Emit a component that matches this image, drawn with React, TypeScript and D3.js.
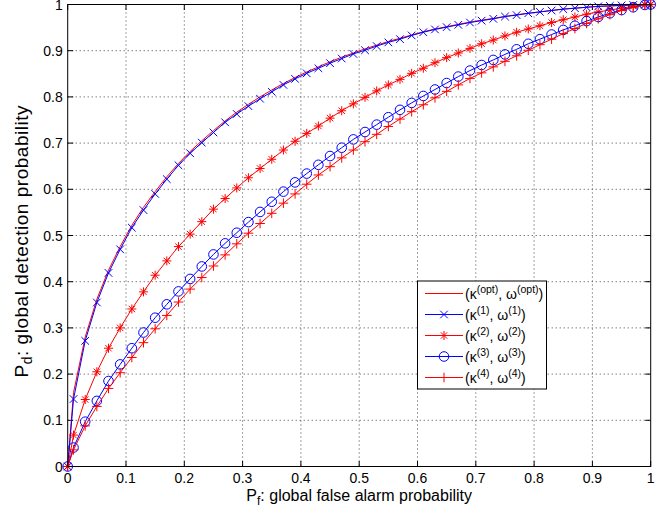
import React, { useEffect, useRef } from "react";
import * as d3 from "d3";

// false alarm probabilities where the curves were sampled
const pf = [
  0, 0.01, 0.03, 0.05, 0.07, 0.09, 0.11, 0.13, 0.15, 0.17, 0.19, 0.21, 0.23, 0.25,
  0.27, 0.29, 0.31, 0.33, 0.35, 0.37, 0.39, 0.41, 0.43, 0.45, 0.47, 0.49, 0.51,
  0.53, 0.55, 0.57, 0.59, 0.61, 0.63, 0.65, 0.67, 0.69, 0.71, 0.73, 0.75, 0.77,
  0.79, 0.81, 0.83, 0.85, 0.87, 0.89, 0.91, 0.93, 0.95, 0.97, 0.99, 1,
];

// detection probabilities
const pdOpt = [
  0, 0.16, 0.28, 0.362, 0.425, 0.476, 0.522, 0.561, 0.595, 0.627, 0.656, 0.682,
  0.705, 0.727, 0.748, 0.767, 0.784, 0.8, 0.815, 0.829, 0.842, 0.854, 0.865, 0.876,
  0.886, 0.895, 0.904, 0.912, 0.92, 0.927, 0.934, 0.941, 0.947, 0.952, 0.957,
  0.962, 0.966, 0.97, 0.974, 0.978, 0.981, 0.984, 0.987, 0.99, 0.992, 0.994,
  0.996, 0.997, 0.998, 0.999, 1, 1,
];
const pd1 = [
  0, 0.146, 0.272, 0.355, 0.419, 0.47, 0.517, 0.555, 0.59, 0.622, 0.652, 0.678,
  0.701, 0.723, 0.745, 0.763, 0.78, 0.796, 0.811, 0.826, 0.839, 0.851, 0.862,
  0.873, 0.883, 0.893, 0.901, 0.91, 0.918, 0.925, 0.933, 0.94, 0.946, 0.951,
  0.956, 0.961, 0.965, 0.969, 0.974, 0.977, 0.981, 0.984, 0.987, 0.99, 0.992,
  0.994, 0.996, 0.997, 0.998, 0.999, 1, 1,
];
const pd2 = [
  0, 0.068, 0.145, 0.205, 0.256, 0.3, 0.341, 0.378, 0.414, 0.445, 0.476, 0.503,
  0.53, 0.557, 0.58, 0.603, 0.625, 0.645, 0.665, 0.685, 0.704, 0.721, 0.737,
  0.754, 0.77, 0.785, 0.799, 0.813, 0.826, 0.838, 0.851, 0.862, 0.874, 0.885,
  0.895, 0.905, 0.915, 0.923, 0.932, 0.94, 0.947, 0.954, 0.961, 0.967, 0.973,
  0.979, 0.984, 0.988, 0.992, 0.996, 0.999, 1,
];
const pd3 = [
  0, 0.041, 0.097, 0.142, 0.185, 0.221, 0.256, 0.29, 0.322, 0.351, 0.379, 0.406,
  0.433, 0.459, 0.483, 0.506, 0.529, 0.551, 0.573, 0.595, 0.615, 0.634, 0.653,
  0.672, 0.69, 0.708, 0.724, 0.74, 0.756, 0.772, 0.787, 0.802, 0.816, 0.83,
  0.844, 0.857, 0.869, 0.88, 0.892, 0.903, 0.915, 0.925, 0.935, 0.945, 0.954,
  0.964, 0.973, 0.981, 0.988, 0.994, 0.999, 1,
];
const pd4 = [
  0, 0.036, 0.088, 0.13, 0.169, 0.203, 0.236, 0.268, 0.298, 0.327, 0.356, 0.384,
  0.409, 0.434, 0.458, 0.482, 0.505, 0.526, 0.548, 0.57, 0.59, 0.611, 0.631,
  0.649, 0.668, 0.685, 0.703, 0.719, 0.736, 0.752, 0.768, 0.783, 0.798, 0.812,
  0.826, 0.84, 0.852, 0.865, 0.877, 0.889, 0.901, 0.913, 0.925, 0.937, 0.948,
  0.959, 0.969, 0.978, 0.987, 0.994, 0.999, 1,
];

const ticks = [0, 0.1, 0.2, 0.3, 0.4, 0.5, 0.6, 0.7, 0.8, 0.9, 1];
const legendSups = ["(opt)", "(1)", "(2)", "(3)", "(4)"];

const series = [
  { values: pdOpt, color: "#ff0000", marker: "none" },
  { values: pd1, color: "#0000ff", marker: "x" },
  { values: pd2, color: "#ff0000", marker: "star" },
  { values: pd3, color: "#0000ff", marker: "o" },
  { values: pd4, color: "#ff0000", marker: "plus" },
];

const font = "'Liberation Sans', Arial, Helvetica, sans-serif";

const drawMarker = (g: any, type: string, x: number, y: number, color: string) => {
  const s = 3.8;
  const line = (x1: number, y1: number, x2: number, y2: number) =>
    g.append("line").attr("x1", x1).attr("y1", y1).attr("x2", x2).attr("y2", y2)
      .attr("stroke", color).attr("stroke-width", 1);
  if (type === "x") {
    line(x - s, y - s, x + s, y + s);
    line(x - s, y + s, x + s, y - s);
  } else if (type === "plus") {
    line(x - 4.8, y, x + 4.8, y);
    line(x, y - 4.8, x, y + 4.8);
  } else if (type === "star") {
    line(x - 4.5, y, x + 4.5, y);
    line(x, y - 4.5, x, y + 4.5);
    line(x - 3.2, y - 3.2, x + 3.2, y + 3.2);
    line(x - 3.2, y + 3.2, x + 3.2, y - 3.2);
  } else if (type === "o") {
    g.append("circle").attr("cx", x).attr("cy", y).attr("r", 4.8)
      .attr("fill", "none").attr("stroke", color).attr("stroke-width", 1);
  }
};

export default function App() {
  const ref = useRef<SVGSVGElement>(null);

  useEffect(() => {
    const svg = d3.select(ref.current);
    svg.selectAll("*").remove();

    const left = 67.7, right = 650.7, top = 4.5, bottom = 466.5;
    const x = d3.scaleLinear().domain([0, 1]).range([left, right]);
    const y = d3.scaleLinear().domain([0, 1]).range([bottom, top]);

    // grid
    const grid = svg.append("g");
    ticks.slice(1, -1).forEach((t) => {
      grid.append("line").attr("x1", x(t)).attr("x2", x(t)).attr("y1", top).attr("y2", bottom)
        .attr("stroke", "#444").attr("stroke-width", 1).attr("stroke-dasharray", "1,3");
      grid.append("line").attr("y1", y(t)).attr("y2", y(t)).attr("x1", left).attr("x2", right)
        .attr("stroke", "#444").attr("stroke-width", 1).attr("stroke-dasharray", "1,3");
    });

    // inward ticks on all four sides
    const tl = 5.5;
    const tk = svg.append("g").attr("stroke", "#000").attr("stroke-width", 1);
    ticks.forEach((t) => {
      tk.append("line").attr("x1", x(t)).attr("x2", x(t)).attr("y1", bottom).attr("y2", bottom - tl);
      tk.append("line").attr("x1", x(t)).attr("x2", x(t)).attr("y1", top).attr("y2", top + tl);
      tk.append("line").attr("y1", y(t)).attr("y2", y(t)).attr("x1", left).attr("x2", left + tl);
      tk.append("line").attr("y1", y(t)).attr("y2", y(t)).attr("x1", right).attr("x2", right - tl);
    });

    const fmt = d3.format("~g");
    ticks.forEach((t) => {
      svg.append("text").attr("x", x(t)).attr("y", bottom + 16.5).attr("text-anchor", "middle")
        .attr("font-family", font).attr("font-size", 14).text(fmt(t));
      svg.append("text").attr("x", left - 5).attr("y", y(t) + 5).attr("text-anchor", "end")
        .attr("font-family", font).attr("font-size", 14).text(fmt(t));
    });

    // curves
    const lineGen = d3.line<number>().x((d, i) => x(pf[i])).y((d) => y(d));
    series.forEach((s) => {
      svg.append("path").datum(s.values).attr("fill", "none").attr("stroke", s.color)
        .attr("stroke-width", 1).attr("d", lineGen);
      if (s.marker !== "none") {
        const mg = svg.append("g");
        s.values.forEach((v, i) => drawMarker(mg, s.marker, x(pf[i]), y(v), s.color));
      }
    });

    // frame
    svg.append("rect").attr("x", left).attr("y", top).attr("width", right - left)
      .attr("height", bottom - top).attr("fill", "none").attr("stroke", "#000").attr("stroke-width", 1);

    // legend
    const lg = svg.append("g");
    lg.append("rect").attr("x", 417.5).attr("y", 281).attr("width", 129).attr("height", 108)
      .attr("fill", "#fff").attr("stroke", "#000").attr("stroke-width", 1);
    series.forEach((s, i) => {
      const ly = 293.5 + i * 21;
      lg.append("line").attr("x1", 425).attr("x2", 463).attr("y1", ly).attr("y2", ly)
        .attr("stroke", s.color).attr("stroke-width", 1);
      if (s.marker !== "none") drawMarker(lg, s.marker, 444, ly, s.color);
      const sup = legendSups[i];
      const t = lg.append("text").attr("x", 465).attr("y", ly + 5.5)
        .attr("font-family", font).attr("font-size", 14);
      t.append("tspan").text("(\u03ba");
      t.append("tspan").attr("font-size", 10.5).attr("dy", -6).text(sup);
      t.append("tspan").attr("dy", 6).text(", \u03c9");
      t.append("tspan").attr("font-size", 10.5).attr("dy", -6).text(sup);
      t.append("tspan").attr("dy", 6).text(")");
    });

    // axis labels
    const xl = svg.append("text").attr("x", (left + right) / 2).attr("y", 501)
      .attr("text-anchor", "middle").attr("font-family", font).attr("font-size", 16);
    xl.append("tspan").text("P");
    xl.append("tspan").attr("font-size", 12).attr("dy", 4).text("f");
    xl.append("tspan").attr("dy", -4).text(": global false alarm probability");

    const yl = svg.append("text").attr("transform", `translate(28,${(top + bottom) / 2 + 6}) rotate(-90)`)
      .attr("text-anchor", "middle").attr("font-family", font).attr("font-size", 19)
      .attr("textLength", 272).attr("lengthAdjust", "spacing");
    yl.append("tspan").text("P");
    yl.append("tspan").attr("font-size", 14).attr("dy", 4).text("d");
    yl.append("tspan").attr("dy", -4).text(": global detection probability");
  }, []);

  return (
    <svg ref={ref} width={672} height={512}
      style={{ position: "absolute", left: 0, top: 0, background: "#fff" }} />
  );
}
